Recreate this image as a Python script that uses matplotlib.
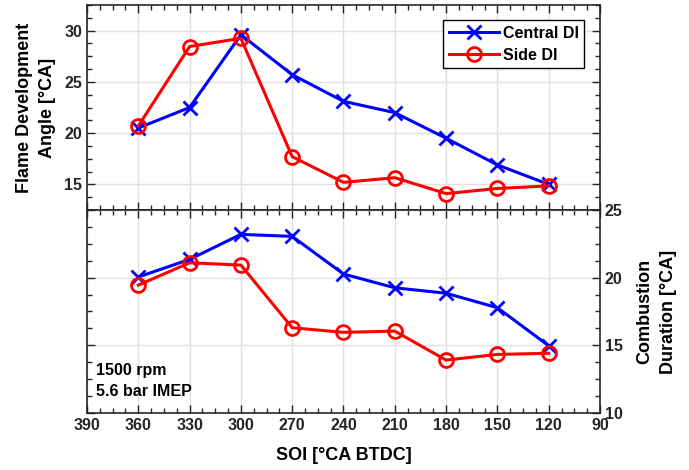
import matplotlib
matplotlib.use("Agg")
import matplotlib.pyplot as plt
from matplotlib.ticker import MultipleLocator

plt.rcParams['font.family'] = ['Liberation Sans', 'DejaVu Sans']
plt.rcParams['font.weight'] = 'bold'

# Start of injection (deg CA BTDC)
soi = [360, 330, 300, 270, 240, 210, 180, 150, 120]

# Flame development angle [deg CA]
fda_central = [20.5, 22.5, 29.6, 25.7, 23.1, 22.0, 19.5, 16.9, 15.0]
fda_side = [20.7, 28.45, 29.25, 17.7, 15.2, 15.65, 14.1, 14.6, 14.85]

# Combustion duration [deg CA]
cd_central = [20.05, 21.35, 23.2, 23.05, 20.27, 19.25, 18.85, 17.78, 14.97]
cd_side = [19.45, 21.1, 20.93, 16.3, 15.96, 16.05, 13.91, 14.33, 14.41]

series_labels = ['Central DI', 'Side DI']
operating_point = '1500 rpm\n5.6 bar IMEP'

blue = '#0000ff'
red = '#ff0000'
spine_col = '#262626'
grid_col = '#e0e0e0'
tick_fs = 11.5
label_fs = 13

fig = plt.figure(figsize=(6.89, 4.70), dpi=100)
ax1 = fig.add_axes([87/689, 1-210/470, 513/689, 205/470])
ax2 = fig.add_axes([87/689, 1-413/470, 513/689, 203/470], sharex=ax1)

line_kw = dict(lw=2.2, ms=10, mew=2.0)

ax1.plot(soi, fda_central, '-x', color=blue, label=series_labels[0], **line_kw)
ax1.plot(soi, fda_side, '-o', color=red, mfc='none', label=series_labels[1], **line_kw)
ax2.plot(soi, cd_central, '-x', color=blue, **line_kw)
ax2.plot(soi, cd_side, '-o', color=red, mfc='none', **line_kw)

ax1.set_xlim(390, 90)
ax1.set_ylim(12.5, 32.5)
ax2.set_ylim(10, 25)

for ax in (ax1, ax2):
    ax.xaxis.set_major_locator(MultipleLocator(30))
    ax.xaxis.set_minor_locator(MultipleLocator(7.5))
    ax.yaxis.set_major_locator(MultipleLocator(5))
    ax.yaxis.set_minor_locator(MultipleLocator(1.25))
    ax.grid(True, which='major', color=grid_col, lw=1.0)
    ax.set_axisbelow(True)
    ax.tick_params(which='both', direction='in', top=True, bottom=True,
                   left=True, right=True, colors=spine_col,
                   labelsize=tick_fs, width=1.0)
    ax.tick_params(which='major', length=6)
    ax.tick_params(which='minor', length=3.5)
    for s in ax.spines.values():
        s.set_color(spine_col)
        s.set_linewidth(1.2)

ax1.tick_params(labelbottom=False)
ax1.set_yticks([15, 20, 25, 30])
ax2.set_yticks([10, 15, 20, 25])
ax2.tick_params(labelleft=False, labelright=True)
ax2.set_xticks(range(390, 89, -30))

ax1.set_ylabel('Flame Development\nAngle [°CA]', fontsize=label_fs, fontweight='bold',
               linespacing=1.45, labelpad=6)
ax2.yaxis.set_label_position('right')
ax2.set_ylabel('Combustion\nDuration [°CA]', fontsize=label_fs, fontweight='bold',
               linespacing=1.45, rotation=90, labelpad=10)
ax2.set_xlabel('SOI [°CA BTDC]', fontsize=label_fs, fontweight='bold', labelpad=10)

for lab in ax1.get_yticklabels() + ax2.get_yticklabels() + ax2.get_xticklabels():
    lab.set_fontweight('bold')
    lab.set_fontsize(tick_fs)

ax2.text(0.018, 0.245, operating_point, transform=ax2.transAxes, fontsize=11.5,
         fontweight='bold', va='top', ha='left', linespacing=1.45)

leg = ax1.legend(loc='upper right', bbox_to_anchor=(0.969, 0.927), fancybox=False,
                 edgecolor='black', framealpha=1, handlelength=3.1,
                 prop={'weight': 'bold', 'size': 11.5}, borderpad=0.35,
                 labelspacing=0.45, handletextpad=0.25, borderaxespad=0)
leg.get_frame().set_linewidth(1.0)

fig.savefig('out.png', dpi=100)
